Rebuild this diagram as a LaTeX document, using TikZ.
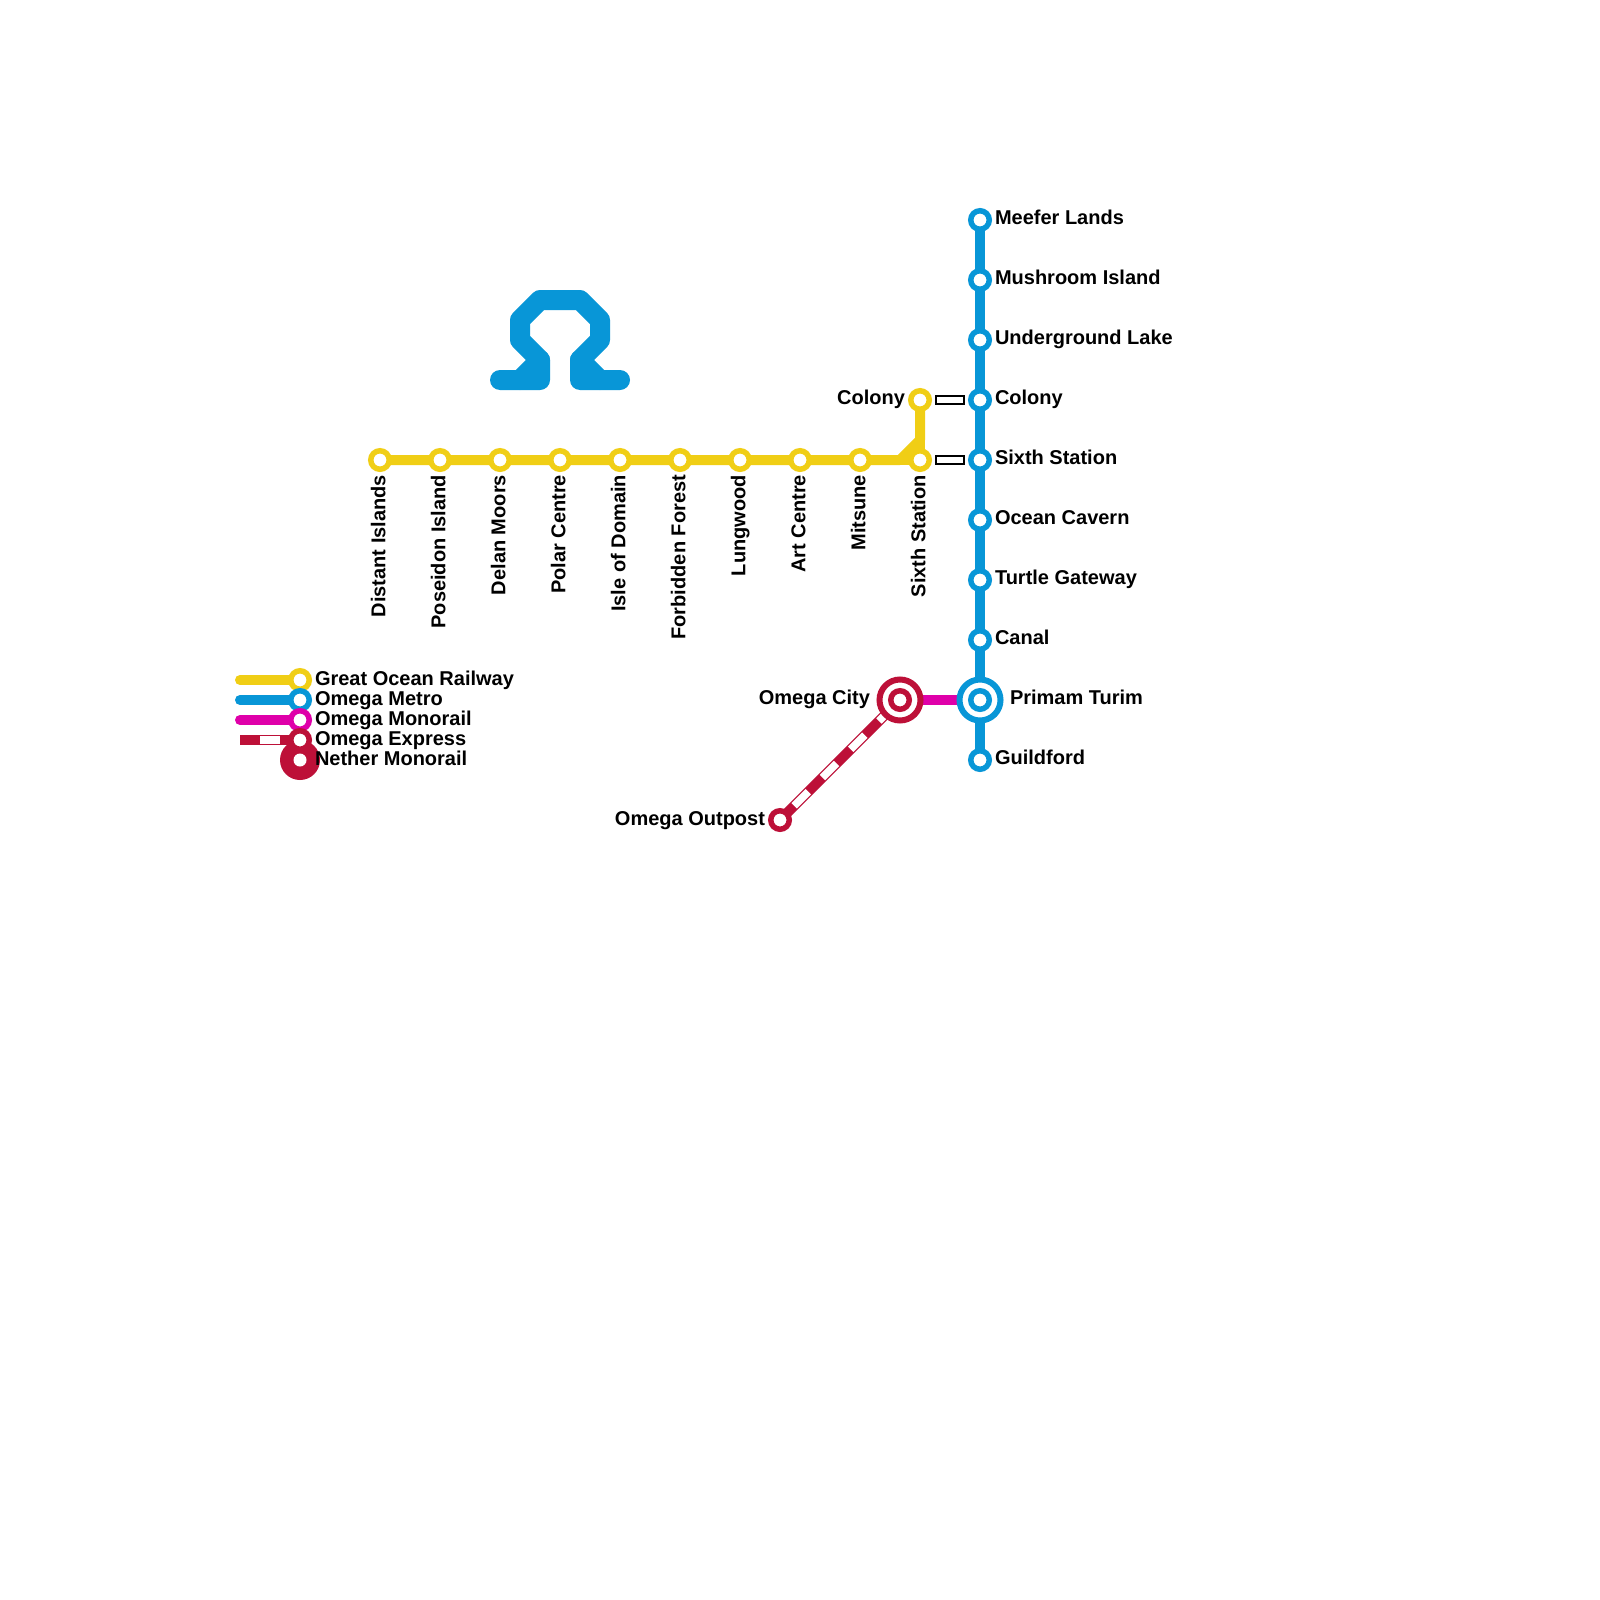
\documentclass[tikz,border=0pt]{standalone}
\usepackage{fontspec}
\setmainfont{Liberation Sans}
\definecolor{cyellow}{HTML}{F0CE15}
\definecolor{cblue}{HTML}{0896D7}
\definecolor{cmag}{HTML}{DF00A9}
\definecolor{cred}{HTML}{BD1038}
\tikzset{
  every node/.style={inner sep=0pt,outer sep=0pt},
  stn/.style={circle,draw=#1,fill=white,line width=5.5pt,minimum size=18.5pt},
  bigstn/.style={circle,draw=#1,fill=white,line width=6pt,minimum size=41pt},
  netherdisc/.style={circle,fill=cred,minimum size=40pt},
  netherhole/.style={circle,fill=white,minimum size=13pt},
  track/.style={draw=#1,line width=10pt,line join=round},
  legtrack/.style={draw=#1,line width=10pt,line cap=round},
  whitedash/.style={draw=white,line width=7.6pt,dash pattern=on 20pt off 20pt,dash phase=20pt},
  xfer/.style={rectangle,draw=black,fill=white,line width=2pt,minimum width=28pt,minimum height=7.5pt},
  lab/.style={font=\bfseries\fontsize{20pt}{24pt}\selectfont,text=black},
  labr/.style={lab,anchor=base west},
  labl/.style={lab,anchor=base east},
  labv/.style={lab,anchor=base east,rotate=90},
}
\begin{document}
\begin{tikzpicture}[x=1pt,y=-1pt]
\useasboundingbox (0,0) rectangle (1600,1600);
\fill[white] (0,0) rectangle (1600,1600);
% Omega logo
\draw[cblue,line width=20pt,line cap=round,line join=round]
  (500,380) -- (540,380) -- (540,360) -- (520,340) -- (520,320) -- (540,300) -- (580,300)
  -- (600,320) -- (600,340) -- (580,360) -- (580,380) -- (620,380);
\draw[cblue,line width=20pt,line cap=round,line join=round] (540,360) -- (520,380);
\draw[cblue,line width=20pt,line cap=round,line join=round] (580,360) -- (600,380);
% coordinates
\foreach \n/\x in {y1/380,y2/440,y3/500,y4/560,y5/620,y6/680,y7/740,y8/800,y9/860,y10/920}
  \coordinate (c\n) at (\x,460);
\coordinate (cy11) at (920,400);
\coordinate (ybendA) at (900,460);
\coordinate (ybendB) at (920,440);
\foreach \n/\y in {b1/220,b2/280,b3/340,b4/400,b5/460,b6/520,b7/580,b8/640,b9/700,b10/760}
  \coordinate (c\n) at (980,\y);
\coordinate (comega) at (900,700);
\coordinate (coutpost) at (780,820);
\foreach \n/\y in {l1/680,l2/700,l3/720,l4/740,l5/760}
  {\coordinate (c\n) at (300,\y);}
\foreach \n/\y in {s1/680,s2/700,s3/720,s4/740}
  {\coordinate (c\n) at (240,\y);}
% tracks
\path[track=cyellow] (cy1) -- (ybendA) -- (ybendB) -- (cy11);
\path[track=cyellow] (ybendA) -- (cy10) -- (ybendB);
\path[track=cblue] (cb1) -- (cb10);
\path[track=cmag] (comega) -- (cb9);
\path[draw=cred,line width=10pt] (coutpost) -- (comega);
\path[whitedash] (coutpost) -- (comega);
% transfers
\node[xfer] (t1) at (950,400) {};
\node[xfer] (t2) at (950,460) {};
% stations
\foreach \n in {y1,y2,y3,y4,y5,y6,y7,y8,y9,y10,y11}
  \node[stn=cyellow] (\n) at (c\n) {};
\foreach \n in {b1,b2,b3,b4,b5,b6,b7,b8,b10}
  \node[stn=cblue] (\n) at (c\n) {};
\node[bigstn=cblue] (b9o) at (cb9) {};
\node[stn=cblue] (b9) at (cb9) {};
\node[bigstn=cred] (omegao) at (comega) {};
\node[stn=cred] (omega) at (comega) {};
\node[stn=cred] (outpost) at (coutpost) {};
% legend
\node[netherdisc] (l5) at (cl5) {};
\node[netherhole] (l5h) at (cl5) {};
\path[legtrack=cyellow] (cs1) -- (cl1);
\node[stn=cyellow] (l1) at (cl1) {};
\path[legtrack=cblue] (cs2) -- (cl2);
\node[stn=cblue] (l2) at (cl2) {};
\path[legtrack=cmag] (cs3) -- (cl3);
\node[stn=cmag] (l3) at (cl3) {};
\path[draw=cred,line width=10pt] (cs4) -- (cl4);
\path[draw=white,line width=8pt,dash pattern=on 20pt off 20pt,dash phase=20pt] (cs4) -- (cl4);
\node[stn=cred] (l4) at (cl4) {};
% labels
\foreach \n/\x/\t in {y1/380/Distant Islands,y2/440/Poseidon Island,y3/500/Delan Moors,y4/560/Polar Centre,y5/620/Isle of Domain,y6/680/Forbidden Forest,y7/740/Lungwood,y8/800/Art Centre,y9/860/Mitsune,y10/920/Sixth Station}
  \node[labv] (lab\n) at (\x+5.3,475) {\t};
\foreach \n/\y/\t in {b1/220/Meefer Lands,b2/280/Mushroom Island,b3/340/Underground Lake,b4/400/Colony,b5/460/Sixth Station,b6/520/Ocean Cavern,b7/580/Turtle Gateway,b8/640/Canal,b10/760/Guildford}
  \node[labr] (lab\n) at (995,\y+4.5) {\t};
\node[labr] (labb9) at (1010,704.5) {Primam Turim};
\node[labl] (laby11) at (905,404) {Colony};
\node[labl] (labomega) at (870,704) {Omega City};
\node[labl] (laboutpost) at (765,825) {Omega Outpost};
\foreach \n/\y/\t in {l1/680/Great Ocean Railway,l2/700/Omega Metro,l3/720/Omega Monorail,l4/740/Omega Express,l5/760/Nether Monorail}
  \node[labr] (lab\n) at (315,\y+5.5) {\t};
\end{tikzpicture}
\end{document}
